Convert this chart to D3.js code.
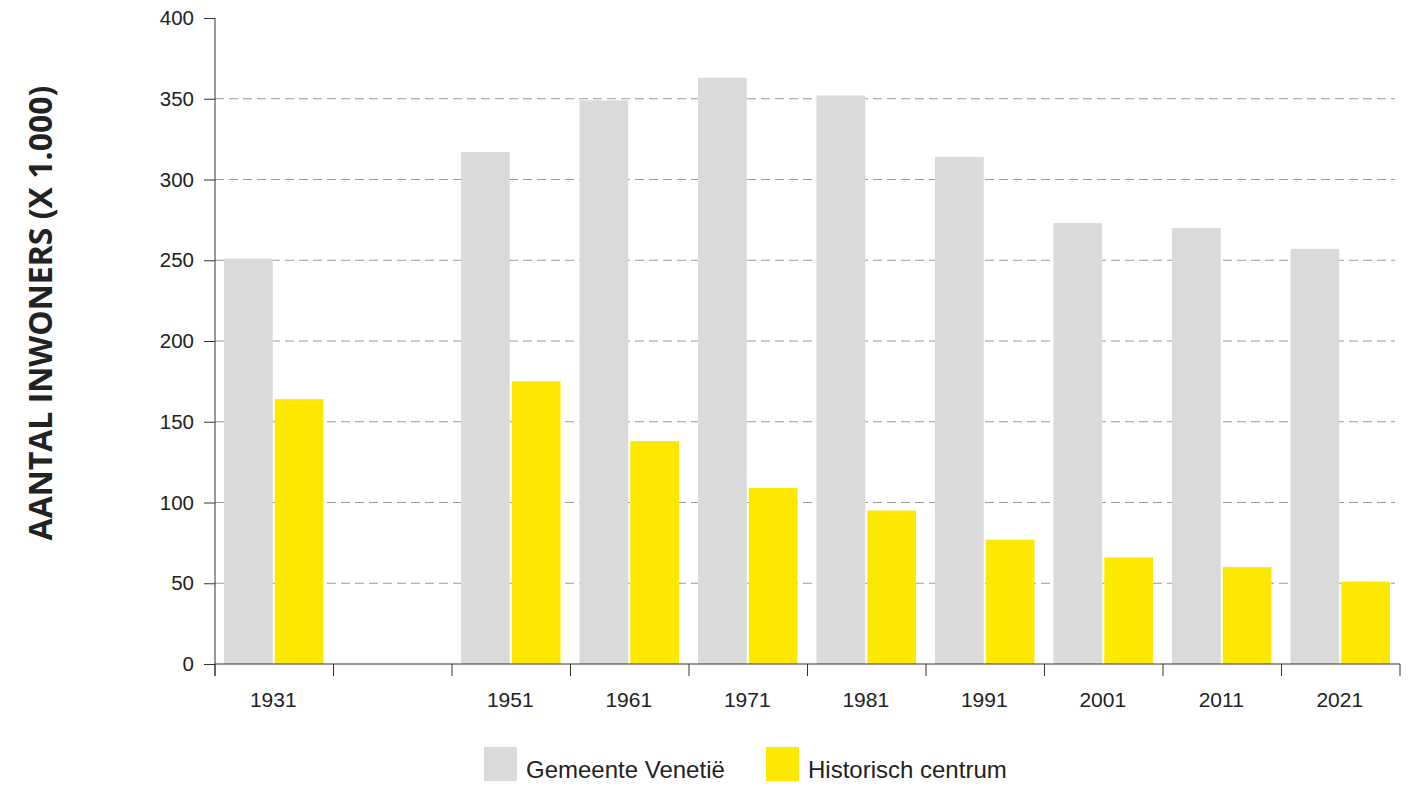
<!DOCTYPE html>
<html>
<head>
<meta charset="utf-8">
<title>Aantal inwoners Venetië</title>
<script src="https://d3js.org/d3.v7.min.js"></script>
<style>
html,body{margin:0;padding:0;background:#fff;}
text{font-family:"Liberation Sans",Arial,sans-serif;fill:#222;}
</style>
</head>
<body>
<script>
// data (x 1.000 inwoners)
var years=["1931","1941","1951","1961","1971","1981","1991","2001","2011","2021"];
var gemeente=[251,null,317,349,363,352,314,273,270,257];
var centrum=[164,null,175,138,109,95,77,66,60,51];
var seriesNames=["Gemeente Venetië","Historisch centrum"];
var seriesColors=["#dadada","#fde900"];
var yTicks=[0,50,100,150,200,250,300,350,400];

var W=1422,H=787;
var mLeft=215,mRight=1400,mTop=18,mBottom=664;

var svg=d3.select("body").append("svg")
	.attr("width",W)
	.attr("height",H);

var x0=d3.scaleBand()
	.domain(years)
	.range([mLeft,mRight]);

var x1=d3.scaleBand()
	.domain([0,1])
	.range([9,x0.bandwidth()-10])
	.paddingInner(0.04);

var y=d3.scaleLinear()
	.domain([0,400])
	.range([mBottom,mTop]);

// gridlines
svg.append("g")
	.selectAll("line")
	.data(yTicks.filter(d=>d>0&&d<400))
	.enter()
	.append("line")
	.attr("x1",mLeft)
	.attr("x2",mRight-5)
	.attr("y1",d=>y(d))
	.attr("y2",d=>y(d))
	.attr("stroke","#999")
	.attr("stroke-width",1)
	.attr("stroke-dasharray","9,5");

// bars
var rows=years.map((yr,i)=>({year:yr,vals:[gemeente[i],centrum[i]]}));
var groups=svg.append("g")
	.selectAll("g")
	.data(rows)
	.enter()
	.append("g")
	.attr("transform",d=>"translate("+x0(d.year)+",0)");

groups.selectAll("rect")
	.data(d=>d.vals.map((v,k)=>({k:k,v:v})).filter(e=>e.v!=null))
	.enter()
	.append("rect")
	.attr("x",e=>x1(e.k))
	.attr("width",x1.bandwidth())
	.attr("y",e=>y(e.v))
	.attr("height",e=>mBottom-y(e.v))
	.attr("fill",e=>seriesColors[e.k]);

// y axis
var yAxis=d3.axisLeft(y)
	.tickValues(yTicks)
	.tickSize(11)
	.tickPadding(10)
	.tickFormat(d3.format("d"));

var gy=svg.append("g")
	.attr("transform","translate("+mLeft+",0)")
	.call(yAxis);
gy.select(".domain").attr("stroke","#333").attr("d","M0,"+mTop+"V"+(mBottom+12));
gy.selectAll(".tick line").attr("stroke","#333");
gy.selectAll(".tick text")
	.style("font-size","20.5px")
	.attr("fill","#222");

// x axis
var gx=svg.append("g")
	.attr("transform","translate(0,"+mBottom+")");
gx.append("line")
	.attr("x1",mLeft)
	.attr("x2",mRight)
	.attr("stroke","#333");
gx.selectAll(".xt")
	.data(years.concat(["end"]))
	.enter()
	.append("line")
	.attr("class","xt")
	.attr("x1",d=>d=="end"?mRight:x0(d))
	.attr("x2",d=>d=="end"?mRight:x0(d))
	.attr("y1",0)
	.attr("y2",12)
	.attr("stroke","#333");
gx.selectAll(".xl")
	.data(years.filter((d,i)=>gemeente[i]!=null))
	.enter()
	.append("text")
	.attr("class","xl")
	.attr("x",d=>x0(d)+x0.bandwidth()/2-1)
	.attr("y",43)
	.attr("text-anchor","middle")
	.style("font-size","21px")
	.text(d=>d);

// y title
svg.append("text")
	.attr("transform","translate(52,313) rotate(-90)")
	.attr("text-anchor","middle")
	.style("font-family","'Open Sans',sans-serif")
	.style("font-weight","bold")
	.style("font-size","32px")
	.attr("fill","#111")
	.text("AANTAL INWONERS (X 1.000)");

// legend
var legX=[484,766];
var leg=svg.append("g")
	.selectAll("g")
	.data(seriesNames)
	.enter()
	.append("g")
	.attr("transform",(d,i)=>"translate("+legX[i]+",747)");
leg.append("rect")
	.attr("width",33)
	.attr("height",34)
	.attr("fill",(d,i)=>seriesColors[i]);
leg.append("text")
	.attr("x",42)
	.attr("y",31)
	.style("font-size","24px")
	.text(d=>d);
</script>
</body>
</html>
